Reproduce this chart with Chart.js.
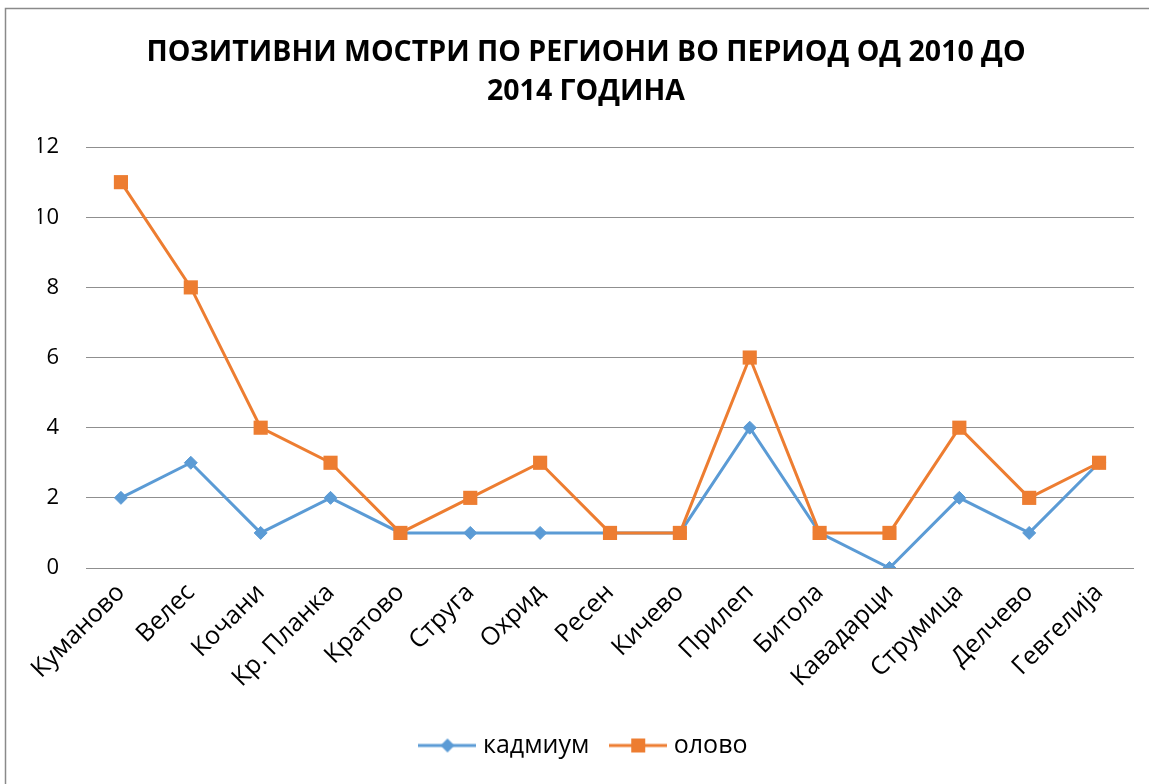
<!DOCTYPE html>
<html>
<head>
<meta charset="utf-8">
<script src="https://cdn.jsdelivr.net/npm/chart.js@4/dist/chart.umd.min.js"></script>
<style>
  html, body { margin: 0; padding: 0; background: #fff; }
  #wrap { position: relative; width: 1149px; height: 784px; }
</style>
</head>
<body>
<div id="wrap"><canvas id="c" width="1149" height="784"></canvas></div>
<script>
const titleLines = ['ПОЗИТИВНИ МОСТРИ ПО РЕГИОНИ ВО ПЕРИОД ОД 2010 ДО', '2014 ГОДИНА'];
const categories = ['Куманово', 'Велес', 'Кочани', 'Кр. Планка', 'Кратово', 'Струга', 'Охрид', 'Ресен', 'Кичево', 'Прилеп', 'Битола', 'Кавадарци', 'Струмица', 'Делчево', 'Гевгелија'];
const kadmium = [2, 3, 1, 2, 1, 1, 1, 1, 1, 4, 1, 0, 2, 1, 3];
const olovo = [11, 8, 4, 3, 1, 2, 3, 1, 1, 6, 1, 1, 4, 2, 3];
const seriesNames = ['кадмиум', 'олово'];
const yTicks = [0, 2, 4, 6, 8, 10, 12];

const BLUE = '#5B9BD5';
const ORANGE = '#ED7D31';
const FONT = "'Open Sans', 'DejaVu Sans', sans-serif";

function legendIcon(color, shape) {
  const c = document.createElement('canvas');
  c.width = 58; c.height = 16;
  const g = c.getContext('2d');
  g.strokeStyle = color; g.lineWidth = 3;
  g.beginPath(); g.moveTo(0, 8); g.lineTo(58, 8); g.stroke();
  g.fillStyle = color;
  if (shape === 'diamond') {
    g.beginPath(); g.moveTo(29 - 7, 8); g.lineTo(29, 1); g.lineTo(29 + 7, 8); g.lineTo(29, 15); g.closePath(); g.fill();
  } else {
    g.fillRect(29 - 7, 1, 14, 14);
  }
  return c;
}
const icons = [legendIcon(BLUE, 'diamond'), legendIcon(ORANGE, 'square')];

const borderPlugin = {
  id: 'outerBorder',
  afterDraw(chart) {
    const ctx = chart.ctx;
    ctx.save();
    ctx.strokeStyle = '#8a8a8a';
    ctx.lineWidth = 1.5;
    ctx.beginPath();
    ctx.moveTo(5.5, chart.height);
    ctx.lineTo(5.5, 8.5);
    ctx.lineTo(chart.width, 8.5);
    ctx.stroke();
    ctx.restore();
  }
};

new Chart(document.getElementById('c'), {
  type: 'line',
  data: {
    labels: categories,
    datasets: [
      {
        label: seriesNames[0], data: kadmium,
        borderColor: BLUE, backgroundColor: BLUE, borderWidth: 3,
        pointStyle: 'rectRot', pointRadius: 6.5, pointHoverRadius: 6.5,
        pointBorderWidth: 1, pointBackgroundColor: BLUE, pointBorderColor: BLUE,
        tension: 0, order: 2
      },
      {
        label: seriesNames[1], data: olovo,
        borderColor: ORANGE, backgroundColor: ORANGE, borderWidth: 3,
        pointStyle: 'rect', pointRadius: 10, pointHoverRadius: 10,
        pointBorderWidth: 0, pointBackgroundColor: ORANGE, pointBorderColor: ORANGE,
        tension: 0, order: 1
      }
    ]
  },
  options: {
    responsive: false,
    animation: false,
    events: [],
    layout: { padding: { left: 38, right: 15, top: 0, bottom: 16 } },
    plugins: {
      title: {
        display: true,
        text: titleLines,
        color: '#000',
        font: { family: FONT, size: 28.5, weight: 'bold', lineHeight: 1.37 },
        padding: { top: 33.5, bottom: 35.5 }
      },
      legend: {
        display: true,
        position: 'bottom',
        labels: {
          color: '#000',
          font: { family: FONT, size: 25 },
          usePointStyle: true,
          pointStyleWidth: 46,
          padding: 26,
          generateLabels(chart) {
            return chart.data.datasets.map((ds, i) => ({
              text: ds.label,
              pointStyle: icons[i],
              fillStyle: ds.borderColor,
              strokeStyle: ds.borderColor,
              lineWidth: 0,
              hidden: false,
              datasetIndex: i,
              fontColor: '#000'
            }));
          }
        }
      },
      tooltip: { enabled: false }
    },
    scales: {
      x: {
        offset: true,
        grid: { display: false, drawTicks: false },
        border: { display: false },
        ticks: {
          color: '#000',
          font: { family: FONT, size: 25 },
          minRotation: 45, maxRotation: 45,
          padding: 10,
          autoSkip: false
        },
        afterFit(scale) { scale.height = 139; }
      },
      y: {
        min: 0, max: 12,
        afterBuildTicks(scale) { scale.ticks = yTicks.map(v => ({ value: v })); },
        grid: { color: '#8f8f8f', lineWidth: 1, drawTicks: false },
        border: { display: false },
        ticks: {
          color: '#000',
          font: { family: FONT, size: 22 },
          padding: 27
        },
        afterFit(scale) { scale.width = 48; }
      }
    }
  },
  plugins: [borderPlugin]
});
</script>
</body>
</html>
